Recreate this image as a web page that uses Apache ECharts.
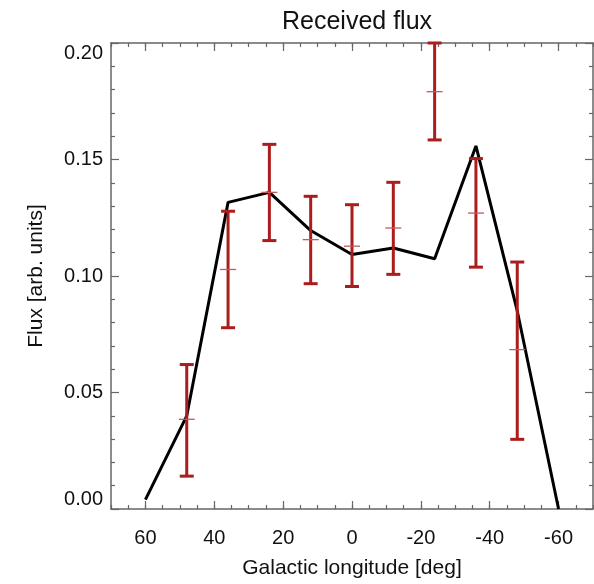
<!DOCTYPE html>
<html>
<head>
<meta charset="utf-8">
<script src="https://cdn.jsdelivr.net/npm/echarts@6/dist/echarts.min.js"></script>
<style>
  html, body { margin: 0; padding: 0; background: #fff; }
  #chart { width: 594px; height: 584px; }
</style>
</head>
<body>
<div id="chart"></div>
<script>
// model curve (black line)
const lonLine = [60, 48, 36, 24, 12, 0, -12, -24, -36, -48, -60];
const fluxLine = [0.004, 0.040, 0.1316, 0.1359, 0.1195, 0.1092, 0.112, 0.1074, 0.1558, 0.085, 0.0];

// measured points with error bars (red)
const lonErr = [48, 36, 24, 12, 0, -12, -24, -36, -48];
const fluxMid = [0.0385, 0.1028, 0.1359, 0.1156, 0.1128, 0.1206, 0.1791, 0.127, 0.0684];
const fluxLow = [0.0141, 0.0778, 0.1152, 0.0967, 0.0955, 0.1007, 0.1584, 0.1038, 0.0299];
const fluxHigh = [0.062, 0.1278, 0.1565, 0.1342, 0.1306, 0.1402, 0.200, 0.1504, 0.106];

const majorLon = [60, 40, 20, 0, -20, -40, -60];

const font = 'Liberation Sans, Arial, Helvetica, sans-serif';
const axisColor = '#666';
const red = '#ab1c1c';

const chart = echarts.init(document.getElementById('chart'));

function xAx(position, major, withLabels) {
  const ax = {
    type: 'value',
    position: position,
    min: -70,
    max: 70,
    inverse: true,
    splitLine: { show: false },
    axisLine: { show: !major, onZero: false, lineStyle: { color: axisColor, width: 1.5 } },
    axisTick: { inside: true, length: major ? 8 : 4, lineStyle: { color: axisColor, width: 1.2 } },
    axisLabel: { show: false }
  };
  if (major) {
    ax.axisTick.customValues = majorLon;
  } else {
    ax.interval = 5;
  }
  if (withLabels) {
    ax.axisLabel = {
      show: true,
      customValues: majorLon,
      margin: 19,
      color: '#111',
      fontSize: 20,
      fontFamily: font
    };
    ax.name = 'Galactic longitude [deg]';
    ax.nameLocation = 'middle';
    ax.nameGap = 49;
    ax.nameTextStyle = { color: '#111', fontSize: 21, fontFamily: font };
  }
  return ax;
}

function yAx(position, withLabels) {
  const ax = {
    type: 'value',
    position: position,
    min: 0,
    max: 0.2,
    interval: 0.05,
    splitLine: { show: false },
    axisLine: { show: true, onZero: false, lineStyle: { color: axisColor, width: 1.5 } },
    axisTick: { inside: true, length: 8, lineStyle: { color: axisColor, width: 1.2 } },
    minorTick: { show: true, splitNumber: 5, length: 4, lineStyle: { color: axisColor, width: 1.2 } },
    axisLabel: { show: false }
  };
  if (withLabels) {
    ax.axisLabel = {
      show: true,
      margin: 8,
      color: '#111',
      fontSize: 20,
      fontFamily: font,
      formatter: v => v.toFixed(2),
      verticalAlignMaxLabel: 'top',
      verticalAlignMinLabel: 'bottom'
    };
    ax.name = 'Flux [arb. units]';
    ax.nameLocation = 'middle';
    ax.nameGap = 64;
    ax.nameRotate = 90;
    ax.nameTextStyle = { color: '#111', fontSize: 21, fontFamily: font };
  }
  return ax;
}

const option = {
  animation: false,
  backgroundColor: '#fff',
  title: {
    text: 'Received flux',
    left: 277,
    top: 5,
    textStyle: { color: '#111', fontSize: 25, fontWeight: 'normal', fontFamily: font }
  },
  grid: { left: 111, right: 1, top: 43, bottom: 73 },
  xAxis: [
    xAx('bottom', false, false),
    xAx('bottom', true, true),
    xAx('top', false, false),
    xAx('top', true, false)
  ],
  yAxis: [yAx('left', true), yAx('right', false)],
  series: [
    {
      type: 'line',
      xAxisIndex: 0,
      yAxisIndex: 0,
      data: lonLine.map((l, i) => [l, fluxLine[i]]),
      symbol: 'none',
      lineStyle: { color: '#000', width: 3 },
      z: 2
    },
    {
      type: 'custom',
      xAxisIndex: 0,
      yAxisIndex: 0,
      clip: false,
      z: 3,
      data: lonErr.map((l, i) => [l, fluxMid[i], fluxLow[i], fluxHigh[i]]),
      renderItem: function (params, api) {
        const mid = api.coord([api.value(0), api.value(1)]);
        const lo = api.coord([api.value(0), api.value(2)]);
        const hi = api.coord([api.value(0), api.value(3)]);
        const cap = 7;
        const barStyle = { stroke: red, lineWidth: 3 };
        return {
          type: 'group',
          children: [
            { type: 'line', shape: { x1: lo[0], y1: lo[1], x2: hi[0], y2: hi[1] }, style: barStyle },
            { type: 'line', shape: { x1: lo[0] - cap, y1: lo[1], x2: lo[0] + cap, y2: lo[1] }, style: barStyle },
            { type: 'line', shape: { x1: hi[0] - cap, y1: hi[1], x2: hi[0] + cap, y2: hi[1] }, style: barStyle },
            { type: 'line', shape: { x1: mid[0] - 8, y1: mid[1], x2: mid[0] + 8, y2: mid[1] },
              style: { stroke: '#c45a5a', lineWidth: 1.3 } }
          ]
        };
      }
    }
  ]
};

chart.setOption(option);
</script>
</body>
</html>
